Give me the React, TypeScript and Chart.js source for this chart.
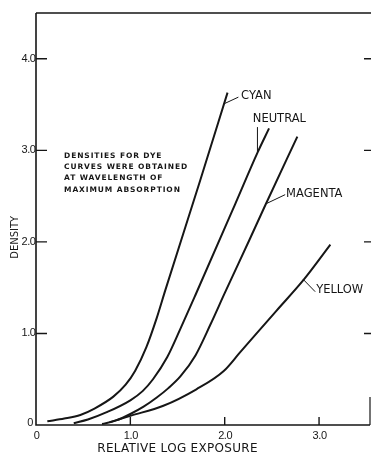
import React, { useEffect, useRef } from 'react';
import { Chart, registerables } from 'chart.js';

Chart.register(...registerables);

// ---- data ----
const cyanX = [0.12, 0.3, 0.47, 0.62, 0.82, 0.95, 1.05, 1.17, 1.28, 1.37, 1.74, 2.03];
const cyanY = [0.04, 0.07, 0.11, 0.18, 0.31, 0.44, 0.59, 0.85, 1.17, 1.47, 2.67, 3.63];

const neutralX = [0.4, 0.55, 0.75, 1.0, 1.13, 1.24, 1.39, 1.53, 1.69, 2.11, 2.35, 2.47];
const neutralY = [0.02, 0.06, 0.14, 0.27, 0.37, 0.5, 0.74, 1.05, 1.42, 2.41, 2.98, 3.24];

const magentaX = [0.7, 0.85, 1.0, 1.14, 1.28, 1.4, 1.53, 1.69, 1.85, 2.0, 2.27, 2.43, 2.77];
const magentaY = [0.01, 0.05, 0.12, 0.2, 0.3, 0.4, 0.53, 0.76, 1.1, 1.44, 2.04, 2.4, 3.15];

const yellowX = [0.78, 1.0, 1.35, 1.7, 1.99, 2.16, 2.55, 2.84, 3.12];
const yellowY = [0.03, 0.1, 0.21, 0.39, 0.59, 0.79, 1.25, 1.59, 1.97];

const seriesNames = ['CYAN', 'NEUTRAL', 'MAGENTA', 'YELLOW'];

const xTickValues = [0, 1, 2, 3];
const xTickLabels = ['0', '1.0', '2.0', '3.0'];
const yTickValues = [0, 1, 2, 3, 4];
const yTickLabels = ['0', '1.0', '2.0', '3.0', '4.0'];

const xTitle = 'RELATIVE LOG EXPOSURE';
const yTitle = 'DENSITY';
const noteLines = [
  'DENSITIES FOR DYE',
  'CURVES WERE OBTAINED',
  'AT WAVELENGTH OF',
  'MAXIMUM ABSORPTION',
];

const X_MIN = 0;
const X_MAX = 3.54;
const Y_MIN = 0;
const Y_MAX = 4.5;

// ---- styling / placement (not data) ----
const INK = '#161616';
const FAMILY = "'DejaVu Sans', 'Liberation Sans', sans-serif";
const TICK_FAMILY = "'Liberation Sans', 'DejaVu Sans', sans-serif";

// label anchor (data coords), leader line start/end (data coords)
const labelPlacement = [
  { text: [2.174, 3.595], from: [1.997, 3.51], to: [2.145, 3.581] },
  { text: [2.298, 3.338], from: [2.347, 2.982], to: [2.347, 3.254] },
  { text: [2.651, 2.521], from: [2.429, 2.412], to: [2.641, 2.516] },
  { text: [2.969, 1.469], from: [2.828, 1.595], to: [2.959, 1.456] },
];

const pts = (xs: number[], ys: number[]) => xs.map((x, i) => ({ x, y: ys[i] }));

const decorPlugin = {
  id: 'decor',
  afterDraw(chart: any) {
    const { ctx, chartArea, scales } = chart;
    const xs = scales.x;
    const ys = scales.y;
    const { left, right, top, bottom } = chartArea;
    ctx.save();
    ctx.strokeStyle = INK;
    ctx.fillStyle = INK;
    ctx.lineCap = 'butt';

    // frame
    ctx.lineWidth = 1.6;
    ctx.beginPath();
    ctx.moveTo(left, top);
    ctx.lineTo(left, bottom);
    ctx.lineTo(right, bottom);
    ctx.moveTo(left, top);
    ctx.lineTo(right + 1, top);
    ctx.stroke();
    ctx.lineWidth = 1.2;
    ctx.beginPath();
    ctx.moveTo(right, bottom);
    ctx.lineTo(right, bottom - 28);
    ctx.stroke();

    // y ticks (inward, both sides)
    ctx.lineWidth = 1.4;
    ctx.beginPath();
    yTickValues.forEach((v) => {
      if (v === 0) return;
      const py = ys.getPixelForValue(v);
      ctx.moveTo(left, py);
      ctx.lineTo(left + 11, py);
      ctx.moveTo(right + 1, py);
      ctx.lineTo(right - 6, py);
    });
    // x ticks (inward)
    xTickValues.forEach((v) => {
      if (v === 0) return;
      const px = xs.getPixelForValue(v);
      ctx.moveTo(px, bottom);
      ctx.lineTo(px, bottom - 8);
    });
    ctx.stroke();

    // tick labels
    ctx.font = `11px ${TICK_FAMILY}`;
    (ctx as any).letterSpacing = '-0.4px';
    ctx.textBaseline = 'middle';
    ctx.textAlign = 'right';
    yTickValues.forEach((v, i) => {
      const py = ys.getPixelForValue(v);
      if (v === 0) ctx.fillText(yTickLabels[i], left - 3, py - 2.5);
      else ctx.fillText(yTickLabels[i], left - 0.5, py);
    });
    ctx.textAlign = 'center';
    xTickValues.forEach((v, i) => {
      ctx.fillText(xTickLabels[i], xs.getPixelForValue(v) + 0.5, bottom + 11);
    });
    (ctx as any).letterSpacing = '0px';

    // curve labels with leaders
    ctx.lineWidth = 1;
    ctx.font = `11.5px ${FAMILY}`;
    ctx.textAlign = 'left';
    ctx.textBaseline = 'middle';
    labelPlacement.forEach((p, i) => {
      ctx.beginPath();
      ctx.moveTo(xs.getPixelForValue(p.from[0]), ys.getPixelForValue(p.from[1]));
      ctx.lineTo(xs.getPixelForValue(p.to[0]), ys.getPixelForValue(p.to[1]));
      ctx.stroke();
      ctx.fillText(seriesNames[i], xs.getPixelForValue(p.text[0]), ys.getPixelForValue(p.text[1]));
    });

    // note block
    ctx.font = `bold 7.5px ${FAMILY}`;
    (ctx as any).letterSpacing = '0.9px';
    const nx = xs.getPixelForValue(0.297);
    const ny = ys.getPixelForValue(2.94);
    noteLines.forEach((line, i) => {
      ctx.fillText(line, nx, ny + i * 11.3);
    });
    (ctx as any).letterSpacing = '0px';

    // axis titles
    ctx.font = `12px ${FAMILY}`;
    ctx.textAlign = 'center';
    ctx.textBaseline = 'middle';
    (ctx as any).letterSpacing = '0.3px';
    ctx.fillText(xTitle, xs.getPixelForValue(1.5), chart.height - 6.5);
    (ctx as any).letterSpacing = '0px';
    ctx.save();
    ctx.translate(15.5, ys.getPixelForValue(2.05));
    ctx.rotate(-Math.PI / 2);
    ctx.font = `10px ${FAMILY}`;
    ctx.fillText(yTitle, 0, 0);
    ctx.restore();

    ctx.restore();
  },
};

export default function App() {
  const canvasRef = useRef<HTMLCanvasElement | null>(null);

  useEffect(() => {
    document.body.style.margin = '0';
    const canvas = canvasRef.current;
    if (!canvas) return;
    const lineStyle = {
      showLine: true,
      borderColor: INK,
      borderWidth: 2,
      pointRadius: 0,
      pointHoverRadius: 0,
      fill: false,
      cubicInterpolationMode: 'monotone' as const,
    };
    const chart = new Chart(canvas, {
      type: 'scatter',
      data: {
        datasets: [
          { label: seriesNames[0], data: pts(cyanX, cyanY), ...lineStyle },
          { label: seriesNames[1], data: pts(neutralX, neutralY), ...lineStyle },
          { label: seriesNames[2], data: pts(magentaX, magentaY), ...lineStyle },
          { label: seriesNames[3], data: pts(yellowX, yellowY), ...lineStyle },
        ],
      },
      options: {
        animation: false,
        responsive: false,
        devicePixelRatio: 1,
        layout: { padding: { top: 13, right: 1, left: 0, bottom: 0 } },
        plugins: {
          legend: { display: false },
          tooltip: { enabled: false },
          title: { display: false },
        },
        scales: {
          x: {
            type: 'linear',
            min: X_MIN,
            max: X_MAX,
            grid: { display: false, drawTicks: false },
            border: { display: false },
            ticks: { display: false },
            afterBuildTicks: (s: any) => {
              s.ticks = xTickValues.map((v) => ({ value: v }));
            },
            afterFit: (s: any) => {
              s.height = 30;
            },
          },
          y: {
            type: 'linear',
            min: Y_MIN,
            max: Y_MAX,
            grid: { display: false, drawTicks: false },
            border: { display: false },
            ticks: { display: false },
            afterBuildTicks: (s: any) => {
              s.ticks = yTickValues.map((v) => ({ value: v }));
            },
            afterFit: (s: any) => {
              s.width = 36;
            },
          },
        },
      },
      plugins: [decorPlugin],
    });
    return () => chart.destroy();
  }, []);

  return (
    <div style={{ width: 371, height: 455, background: '#fff' }}>
      <canvas ref={canvasRef} width={371} height={455} style={{ display: 'block', width: 371, height: 455 }} />
    </div>
  );
}
